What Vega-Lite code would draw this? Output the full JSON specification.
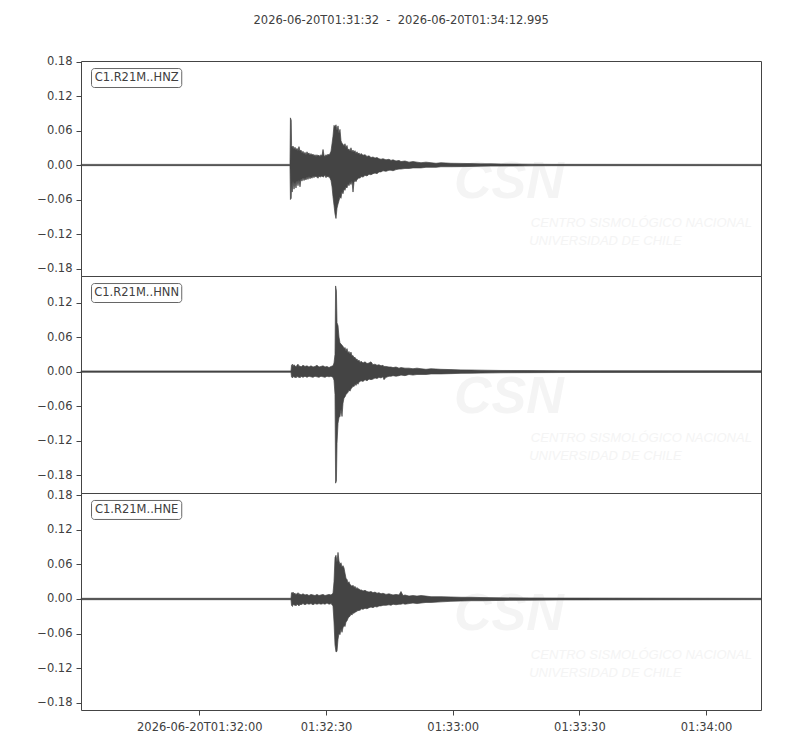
{
"$schema":"https://vega.github.io/schema/vega-lite/v6.json",
"background":"white",
"padding":{"left":5,"top":14,"right":5,"bottom":5},
"bounds":"flush",
"config":{"view":{"stroke":"#444444","strokeWidth":1},"font":"DejaVu Sans",
"axis":{"domain":false,"grid":false,"tickColor":"#444444","tickSize":5,"labelColor":"#404040","labelFont":"DejaVu Sans","labelFontSize":11.5,"labelPadding":4,"labelOverlap":false,"labelFlush":false},
"axisY":{"minExtent":75,"maxExtent":75},
"axisX":{"labelPadding":6},
"concat":{"spacing":0}},
"title":{"text":"2026-06-20T01:31:32\u00a0\u00a0-\u00a0\u00a02026-06-20T01:34:12.995","font":"DejaVu Sans","fontSize":11.5,"fontWeight":"normal","color":"#404040","anchor":"middle","frame":"bounds","dx":17,"offset":29},
"datasets":{
"ann":[{"c":"HNZ","label":"C1.R21M..HNZ"},{"c":"HNN","label":"C1.R21M..HNN"},{"c":"HNE","label":"C1.R21M..HNE"}],
"w":[
{"c":"HNZ","t":0,"hi":0.0011,"lo":-0.0011},{"c":"HNZ","t":49.48,"hi":0.0011,"lo":-0.0011},{"c":"HNZ","t":49.58,"hi":0.082,"lo":-0.06},{"c":"HNZ","t":49.77,"hi":0.078,"lo":-0.058},{"c":"HNZ","t":49.86,"hi":0.034,"lo":-0.03},{"c":"HNZ","t":50.0,"hi":0.03,"lo":-0.047},{"c":"HNZ","t":50.19,"hi":0.033,"lo":-0.028},{"c":"HNZ","t":50.43,"hi":0.028,"lo":-0.042},{"c":"HNZ","t":50.67,"hi":0.031,"lo":-0.03},{"c":"HNZ","t":50.9,"hi":0.026,"lo":-0.04},{"c":"HNZ","t":51.14,"hi":0.029,"lo":-0.027},{"c":"HNZ","t":51.38,"hi":0.025,"lo":-0.036},{"c":"HNZ","t":51.61,"hi":0.032,"lo":-0.026},{"c":"HNZ","t":51.85,"hi":0.024,"lo":-0.038},{"c":"HNZ","t":52.09,"hi":0.026,"lo":-0.024},{"c":"HNZ","t":52.32,"hi":0.021,"lo":-0.028},{"c":"HNZ","t":52.56,"hi":0.024,"lo":-0.022},{"c":"HNZ","t":52.8,"hi":0.019,"lo":-0.027},{"c":"HNZ","t":53.03,"hi":0.022,"lo":-0.023},{"c":"HNZ","t":53.27,"hi":0.018,"lo":-0.026},{"c":"HNZ","t":53.51,"hi":0.023,"lo":-0.021},{"c":"HNZ","t":53.74,"hi":0.019,"lo":-0.025},{"c":"HNZ","t":53.98,"hi":0.021,"lo":-0.02},{"c":"HNZ","t":54.22,"hi":0.017,"lo":-0.024},{"c":"HNZ","t":54.45,"hi":0.02,"lo":-0.021},{"c":"HNZ","t":54.69,"hi":0.017,"lo":-0.023},{"c":"HNZ","t":54.93,"hi":0.019,"lo":-0.019},{"c":"HNZ","t":55.16,"hi":0.016,"lo":-0.022},{"c":"HNZ","t":55.4,"hi":0.018,"lo":-0.019},{"c":"HNZ","t":55.64,"hi":0.015,"lo":-0.021},{"c":"HNZ","t":55.87,"hi":0.018,"lo":-0.02},{"c":"HNZ","t":56.11,"hi":0.016,"lo":-0.023},{"c":"HNZ","t":56.35,"hi":0.017,"lo":-0.019},{"c":"HNZ","t":56.59,"hi":0.015,"lo":-0.021},{"c":"HNZ","t":56.82,"hi":0.018,"lo":-0.02},{"c":"HNZ","t":57.06,"hi":0.016,"lo":-0.019},{"c":"HNZ","t":57.3,"hi":0.027,"lo":-0.021},{"c":"HNZ","t":57.53,"hi":0.017,"lo":-0.02},{"c":"HNZ","t":57.77,"hi":0.015,"lo":-0.018},{"c":"HNZ","t":58.01,"hi":0.018,"lo":-0.022},{"c":"HNZ","t":58.24,"hi":0.016,"lo":-0.019},{"c":"HNZ","t":58.48,"hi":0.019,"lo":-0.021},{"c":"HNZ","t":58.72,"hi":0.017,"lo":-0.02},{"c":"HNZ","t":58.95,"hi":0.02,"lo":-0.023},{"c":"HNZ","t":59.19,"hi":0.024,"lo":-0.027},{"c":"HNZ","t":59.43,"hi":0.037,"lo":-0.038},{"c":"HNZ","t":59.66,"hi":0.05,"lo":-0.055},{"c":"HNZ","t":59.9,"hi":0.069,"lo":-0.07},{"c":"HNZ","t":60.14,"hi":0.066,"lo":-0.085},{"c":"HNZ","t":60.37,"hi":0.07,"lo":-0.093},{"c":"HNZ","t":60.61,"hi":0.06,"lo":-0.075},{"c":"HNZ","t":60.85,"hi":0.068,"lo":-0.068},{"c":"HNZ","t":61.08,"hi":0.055,"lo":-0.062},{"c":"HNZ","t":61.32,"hi":0.062,"lo":-0.055},{"c":"HNZ","t":61.56,"hi":0.042,"lo":-0.058},{"c":"HNZ","t":61.8,"hi":0.038,"lo":-0.046},{"c":"HNZ","t":62.03,"hi":0.036,"lo":-0.05},{"c":"HNZ","t":62.27,"hi":0.033,"lo":-0.042},{"c":"HNZ","t":62.5,"hi":0.037,"lo":-0.044},{"c":"HNZ","t":62.74,"hi":0.03,"lo":-0.038},{"c":"HNZ","t":62.98,"hi":0.034,"lo":-0.04},{"c":"HNZ","t":63.21,"hi":0.026,"lo":-0.033},{"c":"HNZ","t":63.45,"hi":0.028,"lo":-0.036},{"c":"HNZ","t":63.69,"hi":0.024,"lo":-0.03},{"c":"HNZ","t":63.92,"hi":0.03,"lo":-0.034},{"c":"HNZ","t":64.16,"hi":0.023,"lo":-0.028},{"c":"HNZ","t":64.4,"hi":0.026,"lo":-0.047},{"c":"HNZ","t":64.64,"hi":0.022,"lo":-0.03},{"c":"HNZ","t":64.87,"hi":0.025,"lo":-0.027},{"c":"HNZ","t":65.11,"hi":0.02,"lo":-0.029},{"c":"HNZ","t":65.35,"hi":0.023,"lo":-0.025},{"c":"HNZ","t":65.58,"hi":0.019,"lo":-0.024},{"c":"HNZ","t":65.82,"hi":0.021,"lo":-0.022},{"c":"HNZ","t":66.06,"hi":0.018,"lo":-0.023},{"c":"HNZ","t":66.29,"hi":0.02,"lo":-0.02},{"c":"HNZ","t":66.77,"hi":0.017,"lo":-0.021},{"c":"HNZ","t":67.24,"hi":0.018,"lo":-0.018},{"c":"HNZ","t":67.71,"hi":0.015,"lo":-0.019},{"c":"HNZ","t":68.19,"hi":0.016,"lo":-0.016},{"c":"HNZ","t":68.66,"hi":0.013,"lo":-0.017},{"c":"HNZ","t":69.13,"hi":0.014,"lo":-0.015},{"c":"HNZ","t":69.61,"hi":0.012,"lo":-0.014},{"c":"HNZ","t":70.08,"hi":0.013,"lo":-0.015},{"c":"HNZ","t":70.55,"hi":0.011,"lo":-0.012},{"c":"HNZ","t":71.03,"hi":0.01,"lo":-0.012},{"c":"HNZ","t":71.5,"hi":0.011,"lo":-0.01},{"c":"HNZ","t":72.21,"hi":0.009,"lo":-0.011},{"c":"HNZ","t":72.92,"hi":0.01,"lo":-0.009},{"c":"HNZ","t":73.4,"hi":0.008,"lo":-0.009},{"c":"HNZ","t":73.87,"hi":0.009,"lo":-0.01},{"c":"HNZ","t":74.58,"hi":0.007,"lo":-0.008},{"c":"HNZ","t":75.29,"hi":0.008,"lo":-0.007},{"c":"HNZ","t":75.76,"hi":0.006,"lo":-0.007},{"c":"HNZ","t":76.71,"hi":0.007,"lo":-0.006},{"c":"HNZ","t":77.66,"hi":0.005,"lo":-0.006},{"c":"HNZ","t":78.6,"hi":0.006,"lo":-0.005},{"c":"HNZ","t":79.55,"hi":0.005,"lo":-0.005},{"c":"HNZ","t":80.5,"hi":0.004,"lo":-0.005},{"c":"HNZ","t":81.68,"hi":0.005,"lo":-0.004},{"c":"HNZ","t":82.87,"hi":0.004,"lo":-0.004},{"c":"HNZ","t":84.05,"hi":0.003,"lo":-0.004},{"c":"HNZ","t":85.23,"hi":0.004,"lo":-0.003},{"c":"HNZ","t":87.6,"hi":0.003,"lo":-0.003},{"c":"HNZ","t":89.97,"hi":0.0028,"lo":-0.0028},{"c":"HNZ","t":92.34,"hi":0.0025,"lo":-0.0025},{"c":"HNZ","t":94.7,"hi":0.002,"lo":-0.002},{"c":"HNZ","t":97.07,"hi":0.0022,"lo":-0.0018},{"c":"HNZ","t":99.44,"hi":0.0018,"lo":-0.0018},{"c":"HNZ","t":102.99,"hi":0.0016,"lo":-0.0016},{"c":"HNZ","t":106.54,"hi":0.0014,"lo":-0.0014},{"c":"HNZ","t":111.28,"hi":0.0012,"lo":-0.0012},{"c":"HNZ","t":160.995,"hi":0.0011,"lo":-0.0011},
{"c":"HNN","t":0,"hi":0.0012,"lo":-0.0012},{"c":"HNN","t":49.72,"hi":0.0012,"lo":-0.0012},{"c":"HNN","t":49.84,"hi":0.011,"lo":-0.009},{"c":"HNN","t":50.07,"hi":0.013,"lo":-0.011},{"c":"HNN","t":50.19,"hi":0.009,"lo":-0.008},{"c":"HNN","t":50.43,"hi":0.012,"lo":-0.01},{"c":"HNN","t":50.67,"hi":0.01,"lo":-0.009},{"c":"HNN","t":50.9,"hi":0.008,"lo":-0.011},{"c":"HNN","t":51.14,"hi":0.011,"lo":-0.008},{"c":"HNN","t":51.38,"hi":0.013,"lo":-0.01},{"c":"HNN","t":51.61,"hi":0.009,"lo":-0.009},{"c":"HNN","t":51.85,"hi":0.01,"lo":-0.011},{"c":"HNN","t":52.09,"hi":0.008,"lo":-0.008},{"c":"HNN","t":52.56,"hi":0.011,"lo":-0.01},{"c":"HNN","t":53.03,"hi":0.009,"lo":-0.008},{"c":"HNN","t":53.51,"hi":0.01,"lo":-0.01},{"c":"HNN","t":53.98,"hi":0.008,"lo":-0.008},{"c":"HNN","t":54.45,"hi":0.01,"lo":-0.009},{"c":"HNN","t":54.93,"hi":0.008,"lo":-0.01},{"c":"HNN","t":55.4,"hi":0.009,"lo":-0.008},{"c":"HNN","t":55.87,"hi":0.011,"lo":-0.009},{"c":"HNN","t":56.35,"hi":0.008,"lo":-0.01},{"c":"HNN","t":56.82,"hi":0.009,"lo":-0.008},{"c":"HNN","t":57.3,"hi":0.01,"lo":-0.009},{"c":"HNN","t":57.77,"hi":0.008,"lo":-0.01},{"c":"HNN","t":58.24,"hi":0.009,"lo":-0.008},{"c":"HNN","t":58.72,"hi":0.007,"lo":-0.009},{"c":"HNN","t":59.19,"hi":0.009,"lo":-0.008},{"c":"HNN","t":59.66,"hi":0.01,"lo":-0.01},{"c":"HNN","t":59.9,"hi":0.015,"lo":-0.015},{"c":"HNN","t":60.14,"hi":0.03,"lo":-0.04},{"c":"HNN","t":60.28,"hi":0.149,"lo":-0.194},{"c":"HNN","t":60.47,"hi":0.14,"lo":-0.19},{"c":"HNN","t":60.61,"hi":0.085,"lo":-0.125},{"c":"HNN","t":60.85,"hi":0.08,"lo":-0.09},{"c":"HNN","t":61.08,"hi":0.06,"lo":-0.08},{"c":"HNN","t":61.32,"hi":0.05,"lo":-0.078},{"c":"HNN","t":61.56,"hi":0.048,"lo":-0.065},{"c":"HNN","t":61.8,"hi":0.046,"lo":-0.078},{"c":"HNN","t":62.03,"hi":0.044,"lo":-0.055},{"c":"HNN","t":62.27,"hi":0.04,"lo":-0.046},{"c":"HNN","t":62.5,"hi":0.042,"lo":-0.044},{"c":"HNN","t":62.74,"hi":0.036,"lo":-0.04},{"c":"HNN","t":62.98,"hi":0.04,"lo":-0.038},{"c":"HNN","t":63.21,"hi":0.033,"lo":-0.036},{"c":"HNN","t":63.45,"hi":0.035,"lo":-0.032},{"c":"HNN","t":63.69,"hi":0.03,"lo":-0.034},{"c":"HNN","t":63.92,"hi":0.034,"lo":-0.03},{"c":"HNN","t":64.16,"hi":0.027,"lo":-0.028},{"c":"HNN","t":64.4,"hi":0.028,"lo":-0.025},{"c":"HNN","t":64.64,"hi":0.024,"lo":-0.026},{"c":"HNN","t":64.87,"hi":0.025,"lo":-0.022},{"c":"HNN","t":65.11,"hi":0.021,"lo":-0.024},{"c":"HNN","t":65.35,"hi":0.022,"lo":-0.02},{"c":"HNN","t":65.58,"hi":0.018,"lo":-0.022},{"c":"HNN","t":65.82,"hi":0.02,"lo":-0.018},{"c":"HNN","t":66.06,"hi":0.016,"lo":-0.017},{"c":"HNN","t":66.29,"hi":0.018,"lo":-0.016},{"c":"HNN","t":66.77,"hi":0.015,"lo":-0.017},{"c":"HNN","t":67.24,"hi":0.017,"lo":-0.014},{"c":"HNN","t":67.71,"hi":0.014,"lo":-0.016},{"c":"HNN","t":68.19,"hi":0.015,"lo":-0.013},{"c":"HNN","t":68.66,"hi":0.017,"lo":-0.014},{"c":"HNN","t":69.13,"hi":0.012,"lo":-0.013},{"c":"HNN","t":69.61,"hi":0.013,"lo":-0.011},{"c":"HNN","t":70.08,"hi":0.011,"lo":-0.012},{"c":"HNN","t":70.55,"hi":0.012,"lo":-0.01},{"c":"HNN","t":71.03,"hi":0.01,"lo":-0.011},{"c":"HNN","t":71.5,"hi":0.011,"lo":-0.009},{"c":"HNN","t":71.74,"hi":0.009,"lo":-0.014},{"c":"HNN","t":72.21,"hi":0.009,"lo":-0.01},{"c":"HNN","t":72.92,"hi":0.008,"lo":-0.008},{"c":"HNN","t":73.4,"hi":0.008,"lo":-0.008},{"c":"HNN","t":73.87,"hi":0.007,"lo":-0.007},{"c":"HNN","t":74.58,"hi":0.008,"lo":-0.008},{"c":"HNN","t":75.29,"hi":0.006,"lo":-0.007},{"c":"HNN","t":75.76,"hi":0.007,"lo":-0.006},{"c":"HNN","t":76.71,"hi":0.006,"lo":-0.007},{"c":"HNN","t":77.66,"hi":0.006,"lo":-0.005},{"c":"HNN","t":78.6,"hi":0.005,"lo":-0.006},{"c":"HNN","t":79.55,"hi":0.006,"lo":-0.005},{"c":"HNN","t":80.5,"hi":0.005,"lo":-0.005},{"c":"HNN","t":81.68,"hi":0.004,"lo":-0.005},{"c":"HNN","t":82.87,"hi":0.005,"lo":-0.004},{"c":"HNN","t":85.23,"hi":0.004,"lo":-0.004},{"c":"HNN","t":87.6,"hi":0.0035,"lo":-0.0035},{"c":"HNN","t":89.97,"hi":0.003,"lo":-0.003},{"c":"HNN","t":92.34,"hi":0.0028,"lo":-0.0028},{"c":"HNN","t":94.7,"hi":0.0025,"lo":-0.0025},{"c":"HNN","t":99.44,"hi":0.002,"lo":-0.002},{"c":"HNN","t":106.54,"hi":0.0018,"lo":-0.0018},{"c":"HNN","t":113.64,"hi":0.0016,"lo":-0.0016},{"c":"HNN","t":123.11,"hi":0.0015,"lo":-0.0015},{"c":"HNN","t":160.995,"hi":0.0014,"lo":-0.0014},
{"c":"HNE","t":0,"hi":0.0012,"lo":-0.0012},{"c":"HNE","t":49.72,"hi":0.0012,"lo":-0.0012},{"c":"HNE","t":49.84,"hi":0.011,"lo":-0.011},{"c":"HNE","t":50.07,"hi":0.01,"lo":-0.013},{"c":"HNE","t":50.19,"hi":0.012,"lo":-0.009},{"c":"HNE","t":50.43,"hi":0.009,"lo":-0.011},{"c":"HNE","t":50.67,"hi":0.01,"lo":-0.01},{"c":"HNE","t":50.9,"hi":0.008,"lo":-0.012},{"c":"HNE","t":51.14,"hi":0.009,"lo":-0.009},{"c":"HNE","t":51.38,"hi":0.011,"lo":-0.01},{"c":"HNE","t":51.61,"hi":0.008,"lo":-0.012},{"c":"HNE","t":51.85,"hi":0.009,"lo":-0.009},{"c":"HNE","t":52.09,"hi":0.007,"lo":-0.01},{"c":"HNE","t":52.56,"hi":0.009,"lo":-0.008},{"c":"HNE","t":53.03,"hi":0.007,"lo":-0.01},{"c":"HNE","t":53.51,"hi":0.008,"lo":-0.008},{"c":"HNE","t":53.98,"hi":0.006,"lo":-0.009},{"c":"HNE","t":54.45,"hi":0.008,"lo":-0.008},{"c":"HNE","t":54.93,"hi":0.007,"lo":-0.01},{"c":"HNE","t":55.4,"hi":0.006,"lo":-0.008},{"c":"HNE","t":55.87,"hi":0.008,"lo":-0.009},{"c":"HNE","t":56.35,"hi":0.006,"lo":-0.008},{"c":"HNE","t":56.82,"hi":0.007,"lo":-0.009},{"c":"HNE","t":57.3,"hi":0.008,"lo":-0.008},{"c":"HNE","t":57.77,"hi":0.006,"lo":-0.009},{"c":"HNE","t":58.24,"hi":0.007,"lo":-0.007},{"c":"HNE","t":58.72,"hi":0.008,"lo":-0.009},{"c":"HNE","t":59.19,"hi":0.007,"lo":-0.008},{"c":"HNE","t":59.66,"hi":0.01,"lo":-0.012},{"c":"HNE","t":59.9,"hi":0.03,"lo":-0.04},{"c":"HNE","t":60.14,"hi":0.072,"lo":-0.08},{"c":"HNE","t":60.37,"hi":0.076,"lo":-0.092},{"c":"HNE","t":60.61,"hi":0.064,"lo":-0.091},{"c":"HNE","t":60.85,"hi":0.081,"lo":-0.07},{"c":"HNE","t":61.08,"hi":0.066,"lo":-0.06},{"c":"HNE","t":61.32,"hi":0.06,"lo":-0.062},{"c":"HNE","t":61.56,"hi":0.063,"lo":-0.052},{"c":"HNE","t":61.8,"hi":0.055,"lo":-0.058},{"c":"HNE","t":62.03,"hi":0.058,"lo":-0.05},{"c":"HNE","t":62.27,"hi":0.054,"lo":-0.046},{"c":"HNE","t":62.5,"hi":0.045,"lo":-0.048},{"c":"HNE","t":62.74,"hi":0.036,"lo":-0.04},{"c":"HNE","t":62.98,"hi":0.034,"lo":-0.038},{"c":"HNE","t":63.21,"hi":0.028,"lo":-0.034},{"c":"HNE","t":63.45,"hi":0.03,"lo":-0.031},{"c":"HNE","t":63.69,"hi":0.025,"lo":-0.03},{"c":"HNE","t":63.92,"hi":0.024,"lo":-0.026},{"c":"HNE","t":64.16,"hi":0.022,"lo":-0.028},{"c":"HNE","t":64.4,"hi":0.024,"lo":-0.024},{"c":"HNE","t":64.64,"hi":0.02,"lo":-0.025},{"c":"HNE","t":64.87,"hi":0.022,"lo":-0.022},{"c":"HNE","t":65.11,"hi":0.018,"lo":-0.023},{"c":"HNE","t":65.35,"hi":0.02,"lo":-0.02},{"c":"HNE","t":65.58,"hi":0.017,"lo":-0.021},{"c":"HNE","t":65.82,"hi":0.018,"lo":-0.019},{"c":"HNE","t":66.06,"hi":0.015,"lo":-0.02},{"c":"HNE","t":66.29,"hi":0.016,"lo":-0.017},{"c":"HNE","t":66.77,"hi":0.014,"lo":-0.018},{"c":"HNE","t":67.24,"hi":0.015,"lo":-0.016},{"c":"HNE","t":67.71,"hi":0.013,"lo":-0.017},{"c":"HNE","t":68.19,"hi":0.012,"lo":-0.015},{"c":"HNE","t":68.66,"hi":0.013,"lo":-0.014},{"c":"HNE","t":69.13,"hi":0.011,"lo":-0.015},{"c":"HNE","t":69.61,"hi":0.012,"lo":-0.013},{"c":"HNE","t":70.08,"hi":0.01,"lo":-0.014},{"c":"HNE","t":70.55,"hi":0.011,"lo":-0.012},{"c":"HNE","t":71.03,"hi":0.009,"lo":-0.012},{"c":"HNE","t":71.5,"hi":0.01,"lo":-0.011},{"c":"HNE","t":72.21,"hi":0.008,"lo":-0.011},{"c":"HNE","t":72.92,"hi":0.009,"lo":-0.01},{"c":"HNE","t":73.4,"hi":0.008,"lo":-0.011},{"c":"HNE","t":73.87,"hi":0.007,"lo":-0.009},{"c":"HNE","t":74.58,"hi":0.008,"lo":-0.01},{"c":"HNE","t":75.29,"hi":0.007,"lo":-0.009},{"c":"HNE","t":75.76,"hi":0.013,"lo":-0.009},{"c":"HNE","t":76.24,"hi":0.006,"lo":-0.008},{"c":"HNE","t":76.71,"hi":0.007,"lo":-0.009},{"c":"HNE","t":77.66,"hi":0.005,"lo":-0.008},{"c":"HNE","t":78.6,"hi":0.006,"lo":-0.007},{"c":"HNE","t":79.55,"hi":0.005,"lo":-0.008},{"c":"HNE","t":80.5,"hi":0.006,"lo":-0.007},{"c":"HNE","t":81.68,"hi":0.005,"lo":-0.006},{"c":"HNE","t":82.87,"hi":0.004,"lo":-0.006},{"c":"HNE","t":85.23,"hi":0.004,"lo":-0.005},{"c":"HNE","t":87.6,"hi":0.0035,"lo":-0.004},{"c":"HNE","t":89.97,"hi":0.003,"lo":-0.0035},{"c":"HNE","t":92.34,"hi":0.003,"lo":-0.003},{"c":"HNE","t":94.7,"hi":0.0025,"lo":-0.003},{"c":"HNE","t":99.44,"hi":0.002,"lo":-0.0025},{"c":"HNE","t":106.54,"hi":0.0018,"lo":-0.002},{"c":"HNE","t":113.64,"hi":0.0016,"lo":-0.0016},{"c":"HNE","t":160.995,"hi":0.0012,"lo":-0.0012}
]},
"vconcat":[
{"width":680,"height":215,"layer":[
{"data":{"name":"ann"},"transform":[{"filter":"datum.c==='HNZ'"}],"mark":{"type":"text","text":"CSN","font":"Liberation Sans","fontSize":52,"fontStyle":"italic","fontWeight":"bold","color":"#f4f4f4","align":"left","baseline":"middle"},"encoding":{"x":{"datum":88.3,"type":"quantitative","axis":null},"y":{"datum":-0.03,"type":"quantitative"}}},
{"data":{"name":"ann"},"transform":[{"filter":"datum.c==='HNZ'"}],"mark":{"type":"text","text":"CENTRO SISMOLÓGICO NACIONAL","font":"Liberation Sans","fontSize":13,"fontStyle":"italic","color":"#f4f4f4","align":"left","baseline":"middle"},"encoding":{"x":{"datum":106.5,"type":"quantitative","axis":null},"y":{"datum":-0.1009,"type":"quantitative"}}},
{"data":{"name":"ann"},"transform":[{"filter":"datum.c==='HNZ'"}],"mark":{"type":"text","text":"UNIVERSIDAD DE CHILE","font":"Liberation Sans","fontSize":13,"fontStyle":"italic","color":"#f4f4f4","align":"left","baseline":"middle"},"encoding":{"x":{"datum":106.1,"type":"quantitative","axis":null},"y":{"datum":-0.1322,"type":"quantitative"}}},
{"data":{"name":"w"},"transform":[{"filter":"datum.c==='HNZ'"}],"mark":{"type":"area","fill":"#444444","stroke":"#444444","strokeWidth":0.7},"encoding":{"x":{"field":"t","type":"quantitative","scale":{"domain":[0,160.995],"nice":false,"zero":false},"axis":null},"y":{"field":"hi","type":"quantitative","scale":{"domain":[-0.193,0.1809],"nice":false,"zero":false},"axis":{"title":null,"tickCount":20,"labelOverlap":false,"values":[-0.18,-0.12,-0.06,0,0.06,0.12,0.18],"labelExpr":"replace(format(datum.value,'.2f'),'-','\u2212')"}},"y2":{"field":"lo"}}},
{"data":{"name":"ann"},"transform":[{"filter":"datum.c==='HNZ'"}],"mark":{"type":"rect","fill":"white","stroke":"#666666","strokeWidth":1,"cornerRadius":3},"encoding":{"x":{"datum":2.49,"type":"quantitative","axis":null},"x2":{"datum":23.85},"y":{"datum":0.1678,"type":"quantitative"},"y2":{"datum":0.1348}}},
{"data":{"name":"ann"},"transform":[{"filter":"datum.c==='HNZ'"}],"mark":{"type":"text","font":"DejaVu Sans","fontSize":11.5,"color":"#404040","align":"center","baseline":"middle"},"encoding":{"x":{"datum":13.17,"type":"quantitative","axis":null},"y":{"datum":0.1513,"type":"quantitative"},"text":{"field":"label"}}}
]},
{"width":680,"height":217,"layer":[
{"data":{"name":"ann"},"transform":[{"filter":"datum.c==='HNN'"}],"mark":{"type":"text","text":"CSN","font":"Liberation Sans","fontSize":52,"fontStyle":"italic","fontWeight":"bold","color":"#f4f4f4","align":"left","baseline":"middle"},"encoding":{"x":{"datum":88.3,"type":"quantitative","axis":null},"y":{"datum":-0.0442,"type":"quantitative"}}},
{"data":{"name":"ann"},"transform":[{"filter":"datum.c==='HNN'"}],"mark":{"type":"text","text":"CENTRO SISMOLÓGICO NACIONAL","font":"Liberation Sans","fontSize":13,"fontStyle":"italic","color":"#f4f4f4","align":"left","baseline":"middle"},"encoding":{"x":{"datum":106.5,"type":"quantitative","axis":null},"y":{"datum":-0.1155,"type":"quantitative"}}},
{"data":{"name":"ann"},"transform":[{"filter":"datum.c==='HNN'"}],"mark":{"type":"text","text":"UNIVERSIDAD DE CHILE","font":"Liberation Sans","fontSize":13,"fontStyle":"italic","color":"#f4f4f4","align":"left","baseline":"middle"},"encoding":{"x":{"datum":106.1,"type":"quantitative","axis":null},"y":{"datum":-0.1468,"type":"quantitative"}}},
{"data":{"name":"w"},"transform":[{"filter":"datum.c==='HNN'"}],"mark":{"type":"area","fill":"#444444","stroke":"#444444","strokeWidth":0.7},"encoding":{"x":{"field":"t","type":"quantitative","scale":{"domain":[0,160.995],"nice":false,"zero":false},"axis":null},"y":{"field":"hi","type":"quantitative","scale":{"domain":[-0.2111,0.1663],"nice":false,"zero":false},"axis":{"title":null,"tickCount":20,"labelOverlap":false,"values":[-0.18,-0.12,-0.06,0,0.06,0.12],"labelExpr":"replace(format(datum.value,'.2f'),'-','\u2212')"}},"y2":{"field":"lo"}}},
{"data":{"name":"ann"},"transform":[{"filter":"datum.c==='HNN'"}],"mark":{"type":"rect","fill":"white","stroke":"#666666","strokeWidth":1,"cornerRadius":3},"encoding":{"x":{"datum":2.49,"type":"quantitative","axis":null},"x2":{"datum":23.85},"y":{"datum":0.1532,"type":"quantitative"},"y2":{"datum":0.1202}}},
{"data":{"name":"ann"},"transform":[{"filter":"datum.c==='HNN'"}],"mark":{"type":"text","font":"DejaVu Sans","fontSize":11.5,"color":"#404040","align":"center","baseline":"middle"},"encoding":{"x":{"datum":13.17,"type":"quantitative","axis":null},"y":{"datum":0.1367,"type":"quantitative"},"text":{"field":"label"}}}
]},
{"width":680,"height":217,"layer":[
{"data":{"name":"ann"},"transform":[{"filter":"datum.c==='HNE'"}],"mark":{"type":"text","text":"CSN","font":"Liberation Sans","fontSize":52,"fontStyle":"italic","fontWeight":"bold","color":"#f4f4f4","align":"left","baseline":"middle"},"encoding":{"x":{"datum":88.3,"type":"quantitative"},"y":{"datum":-0.0261,"type":"quantitative"}}},
{"data":{"name":"ann"},"transform":[{"filter":"datum.c==='HNE'"}],"mark":{"type":"text","text":"CENTRO SISMOLÓGICO NACIONAL","font":"Liberation Sans","fontSize":13,"fontStyle":"italic","color":"#f4f4f4","align":"left","baseline":"middle"},"encoding":{"x":{"datum":106.5,"type":"quantitative"},"y":{"datum":-0.0974,"type":"quantitative"}}},
{"data":{"name":"ann"},"transform":[{"filter":"datum.c==='HNE'"}],"mark":{"type":"text","text":"UNIVERSIDAD DE CHILE","font":"Liberation Sans","fontSize":13,"fontStyle":"italic","color":"#f4f4f4","align":"left","baseline":"middle"},"encoding":{"x":{"datum":106.1,"type":"quantitative"},"y":{"datum":-0.1287,"type":"quantitative"}}},
{"data":{"name":"w"},"transform":[{"filter":"datum.c==='HNE'"}],"mark":{"type":"area","fill":"#444444","stroke":"#444444","strokeWidth":0.7},"encoding":{"x":{"field":"t","type":"quantitative","scale":{"domain":[0,160.995],"nice":false,"zero":false},"axis":{"title":null,"tickCount":20,"labelOverlap":false,"values":[28,58,88,118,148],"labelExpr":"datum.value===28?'2026-06-20T01:32:00':datum.value===58?'01:32:30':datum.value===88?'01:33:00':datum.value===118?'01:33:30':'01:34:00'"}},"y":{"field":"hi","type":"quantitative","scale":{"domain":[-0.193,0.1843],"nice":false,"zero":false},"axis":{"title":null,"tickCount":20,"labelOverlap":false,"values":[-0.18,-0.12,-0.06,0,0.06,0.12,0.18],"labelExpr":"replace(format(datum.value,'.2f'),'-','\u2212')"}},"y2":{"field":"lo"}}},
{"data":{"name":"ann"},"transform":[{"filter":"datum.c==='HNE'"}],"mark":{"type":"rect","fill":"white","stroke":"#666666","strokeWidth":1,"cornerRadius":3},"encoding":{"x":{"datum":2.49,"type":"quantitative"},"x2":{"datum":23.85},"y":{"datum":0.1713,"type":"quantitative"},"y2":{"datum":0.1383}}},
{"data":{"name":"ann"},"transform":[{"filter":"datum.c==='HNE'"}],"mark":{"type":"text","font":"DejaVu Sans","fontSize":11.5,"color":"#404040","align":"center","baseline":"middle"},"encoding":{"x":{"datum":13.17,"type":"quantitative"},"y":{"datum":0.1548,"type":"quantitative"},"text":{"field":"label"}}}
]}
]
}
